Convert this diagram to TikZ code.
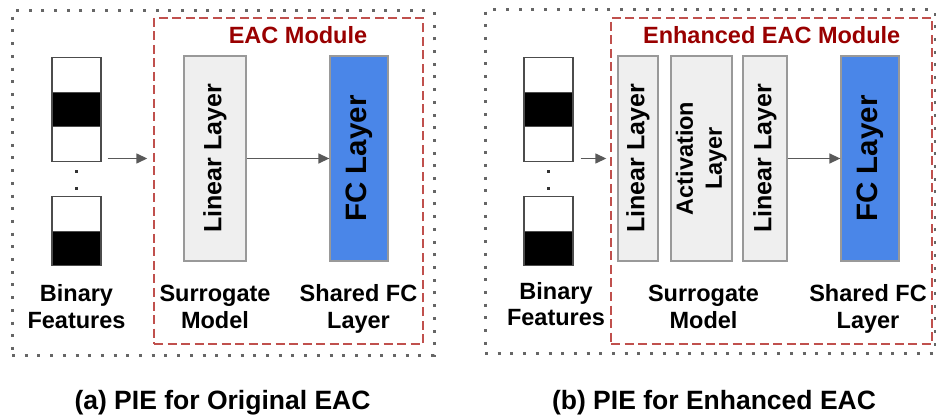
\documentclass[tikz,border=0pt]{standalone}
\usepackage{fontspec}
\setmainfont{Liberation Sans}
\usetikzlibrary{arrows.meta}
\definecolor{fcblue}{HTML}{4A86E8}
\definecolor{linfill}{HTML}{EFEFEF}
\definecolor{boxgray}{HTML}{999999}
\definecolor{arrgray}{HTML}{595959}
\definecolor{dashred}{HTML}{C0504D}
\definecolor{modred}{HTML}{990000}
\definecolor{dotgray}{HTML}{666666}
\begin{document}
\begin{tikzpicture}[x=1pt,y=-1pt,
  outerbox/.style={draw=dotgray, line width=3pt, dash pattern=on 3pt off 9.7pt, minimum width=#1, inner sep=0pt},
  modbox/.style={draw=dashred, line width=1.4pt, dash pattern=on 9pt off 4.5pt, inner sep=0pt},
  linbox/.style={draw=boxgray, fill=linfill, line width=1.3pt, minimum height=205pt, inner sep=0pt},
  fcbox/.style={draw=boxgray, fill=fcblue, line width=1.3pt, minimum height=205pt, inner sep=0pt},
  cellw/.style={draw=black!70, fill=white, line width=1.3pt, minimum width=49pt, minimum height=34.5pt, inner sep=0pt},
  cellb/.style={cellw, fill=black},
  arr/.style={draw=arrgray, line width=1.4pt, -{Triangle[length=11pt,width=10pt]}},
  lab/.style={font=\fontsize{23.5}{28}\selectfont\bfseries, inner sep=0pt, anchor=base},
  modlab/.style={lab, text=modred},
  captext/.style={font=\fontsize{26.5}{30}\selectfont\bfseries, inner sep=0pt, anchor=base},
  linfont/.style={font=\fontsize{25}{29}\selectfont\bfseries},
  actfont/.style={font=\fontsize{23.5}{29}\selectfont\bfseries},
  fcfont/.style={font=\fontsize{29.5}{33}\selectfont\bfseries},
]
\useasboundingbox (0,0) rectangle (936,419);

% ---------- panel (a) ----------
\node[outerbox=422pt, minimum height=344pt] (outA) at (223,183) {};
\node[modbox, minimum width=269pt, minimum height=326pt] (eacA) at (288.5,181) {};
\node[modlab] (titA) at (298,43.3) {EAC Module};

\node[cellw] (a1) at (76.5,75) {};
\node[cellb] (a2) at (76.5,109.5) {};
\node[cellw] (a3) at (76.5,144) {};
\fill[black!80] (75,170.5) rectangle (78,173.5);
\fill[black!80] (75,187.5) rectangle (78,190.5);
\node[cellw] (a4) at (76.5,214) {};
\node[cellb] (a5) at (76.5,248.5) {};

\node[linbox, linfont, minimum width=62pt] (linA) at (215,158.5) {\rotatebox{90}{Linear Layer}};
\node[fcbox, fcfont, minimum width=58pt] (fcA) at (359,158.5) {\rotatebox{90}{FC Layer}};

\draw[arr, shorten <=6pt, shorten >=6pt] (a3.east |- linA.center) -- (eacA.west |- linA.center);
\draw[arr] (linA) -- (fcA);

\node[lab] (binA1) at (76.5,301.7) {Binary};
\node[lab] (binA2) at (76.5,328) {Features};
\node[lab] (surA1) at (215,301.7) {Surrogate};
\node[lab] (surA2) at (215,328) {Model};
\node[lab] (shA1) at (358.5,301.7) {Shared FC};
\node[lab] (shA2) at (358.5,328) {Layer};

\node[captext] (capA) at (222.5,409) {(a) PIE for Original EAC};

% ---------- panel (b) ----------
\node[outerbox=450pt, minimum height=343pt] (outB) at (710,181.5) {};
\node[modbox, minimum width=321pt, minimum height=326pt] (eacB) at (771.5,181) {};
\node[modlab] (titB) at (771.7,43.3) {Enhanced EAC Module};

\node[cellw] (b1) at (548.5,75) {};
\node[cellb] (b2) at (548.5,109.5) {};
\node[cellw] (b3) at (548.5,144) {};
\fill[black!80] (547,170.5) rectangle (550,173.5);
\fill[black!80] (547,187.5) rectangle (550,190.5);
\node[cellw] (b4) at (548.5,214) {};
\node[cellb] (b5) at (548.5,248.5) {};

\node[linbox, linfont, minimum width=40pt] (linB1) at (638,158.5) {\rotatebox{90}{Linear Layer}};
\node[linbox, actfont, minimum width=61pt] (actB) at (701.5,158.5) {\rotatebox{90}{\begin{tabular}{@{}c@{}}Activation\\Layer\end{tabular}}};
\node[linbox, linfont, minimum width=44pt] (linB2) at (765,158.5) {\rotatebox{90}{Linear Layer}};
\node[fcbox, fcfont, minimum width=58pt] (fcB) at (870,158.5) {\rotatebox{90}{FC Layer}};

\draw[arr, shorten <=7pt, shorten >=4pt] (b3.east |- linB1.center) -- (eacB.west |- linB1.center);
\draw[arr] (linB2) -- (fcB);

\node[lab] (binB1) at (556,300) {Binary};
\node[lab] (binB2) at (556,325) {Features};
\node[lab] (surB1) at (703.5,301.7) {Surrogate};
\node[lab] (surB2) at (703.5,328) {Model};
\node[lab] (shB1) at (868,301.7) {Shared FC};
\node[lab] (shB2) at (868,328) {Layer};

\node[captext] (capB) at (714,409) {(b) PIE for Enhanced EAC};
\end{tikzpicture}
\end{document}
